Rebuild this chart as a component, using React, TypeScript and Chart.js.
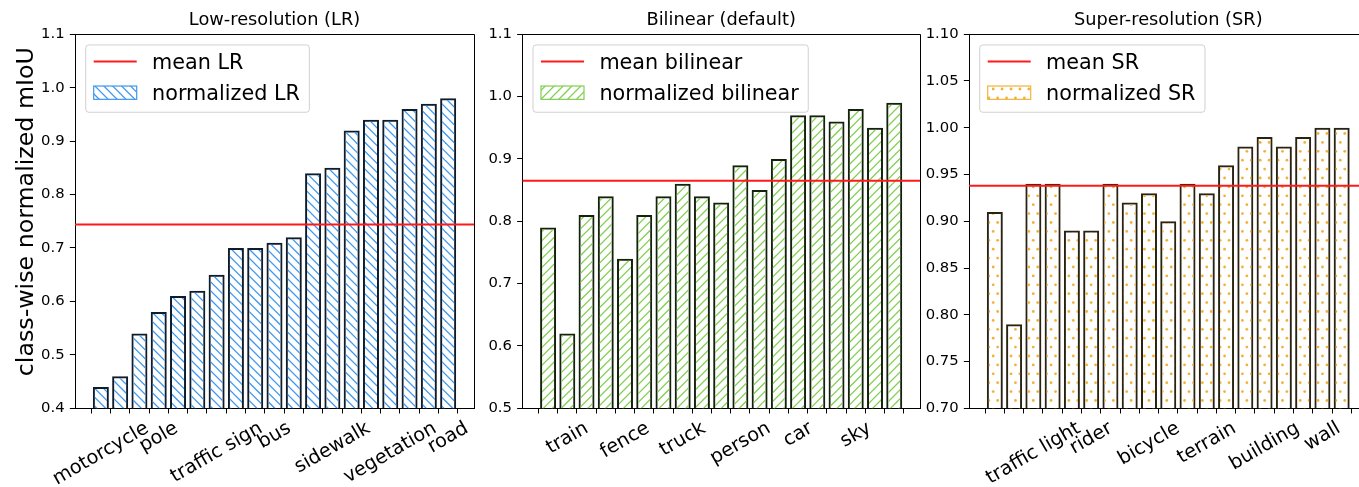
import React, { useEffect, useRef } from "react";
import { Chart, registerables } from "chart.js";

Chart.register(...registerables);

// ---------- data ----------
const classes = [
  "motorcycle", "train", "traffic light", "pole", "fence", "rider", "traffic sign",
  "truck", "bicycle", "bus", "person", "terrain", "sidewalk", "car", "building",
  "vegetation", "sky", "wall", "road",
];

const lrValues = [0.44, 0.46, 0.54, 0.58, 0.61, 0.62, 0.65, 0.70, 0.70, 0.71, 0.72, 0.84, 0.85, 0.92, 0.94, 0.94, 0.96, 0.97, 0.98];
const bilinearValues = [0.79, 0.62, 0.81, 0.84, 0.74, 0.81, 0.84, 0.86, 0.84, 0.83, 0.89, 0.85, 0.90, 0.97, 0.97, 0.96, 0.98, 0.95, 0.99];
const srValues = [0.91, 0.79, 0.94, 0.94, 0.89, 0.89, 0.94, 0.92, 0.93, 0.90, 0.94, 0.93, 0.96, 0.98, 0.99, 0.98, 0.99, 1.00, 1.00];

const meanLR = 0.744;
const meanBilinear = 0.865;
const meanSR = 0.938;

const panelTitles = ["Low-resolution (LR)", "Bilinear (default)", "Super-resolution (SR)"];
const meanLabels = ["mean LR", "mean bilinear", "mean SR"];
const barLabels = ["normalized LR", "normalized bilinear", "normalized SR"];
const yAxisTitle = "class-wise normalized mIoU";

// x limits (matplotlib default margins around 19 bars of width 0.8)
const X_MIN = -1.34;
const X_MAX = 19.34;

const FONT = '"DejaVu Sans", "Liberation Sans", sans-serif';
const PT = 106.7 / 72; // px per point in the reference

type Hatch = "back" | "fwd" | "dots";

function makePattern(kind: Hatch, color: string): CanvasPattern | string {
  const c = document.createElement("canvas");
  const T = 89;
  const N = 10;
  const sp = T / N;
  c.width = T;
  c.height = T;
  const g = c.getContext("2d");
  if (!g) return color;
  g.strokeStyle = color;
  g.fillStyle = color;
  g.lineWidth = 1.25;
  if (kind === "back") {
    for (let k = -2 * N; k <= 2 * N; k++) {
      const c0 = k * sp;
      g.beginPath();
      g.moveTo(-T, -T + c0);
      g.lineTo(2 * T, 2 * T + c0);
      g.stroke();
    }
  } else if (kind === "fwd") {
    for (let k = -2 * N; k <= 3 * N; k++) {
      const c0 = k * sp;
      g.beginPath();
      g.moveTo(-T, c0 + T);
      g.lineTo(2 * T, c0 - 2 * T);
      g.stroke();
    }
  } else {
    for (let r = -1; r <= N + 1; r++) {
      const y = r * sp;
      const off = ((r % 2) + 2) % 2 === 0 ? 0 : sp / 2;
      for (let q = -1; q <= N + 1; q++) {
        const x = q * sp + off;
        g.beginPath();
        g.arc(x, y, 1.4, 0, Math.PI * 2);
        g.fill();
      }
    }
  }
  const ctx = document.createElement("canvas").getContext("2d");
  const p = ctx ? ctx.createPattern(c, "repeat") : null;
  return p || color;
}

type Panel = {
  title: string;
  values: number[];
  mean: number;
  meanLabel: string;
  barLabel: string;
  yMin: number;
  yMax: number;
  yStep: number;
  decimals: number;
  hatch: Hatch;
  hatchColor: string;
  edgeColor: string;
  labelOffset: number;
  yTitle?: string;
  // layout
  left: number;
  width: number;
  axisWidth: number;
  padRight: number;
};

const panels: Panel[] = [
  {
    title: panelTitles[0], values: lrValues, mean: meanLR, meanLabel: meanLabels[0], barLabel: barLabels[0],
    yMin: 0.4, yMax: 1.1, yStep: 0.1, decimals: 1, hatch: "back", hatchColor: "#3d97f0", edgeColor: "#0f1c2b",
    labelOffset: 0, yTitle: yAxisTitle, left: 0, width: 480, axisWidth: 75, padRight: 6,
  },
  {
    title: panelTitles[1], values: bilinearValues, mean: meanBilinear, meanLabel: meanLabels[1], barLabel: barLabels[1],
    yMin: 0.5, yMax: 1.1, yStep: 0.1, decimals: 1, hatch: "fwd", hatchColor: "#80cf50", edgeColor: "#14220d",
    labelOffset: 1, left: 480, width: 442, axisWidth: 42.3, padRight: 2,
  },
  {
    title: panelTitles[2], values: srValues, mean: meanSR, meanLabel: meanLabels[2], barLabel: barLabels[2],
    yMin: 0.7, yMax: 1.1, yStep: 0.05, decimals: 2, hatch: "dots", hatchColor: "#f2b23a", edgeColor: "#2a2312",
    labelOffset: 2, left: 922, width: 453, axisWidth: 47, padRight: 7.5,
  },
];

function PanelChart({ p }: { p: Panel }) {
  const ref = useRef<HTMLCanvasElement | null>(null);
  useEffect(() => {
    const canvas = ref.current;
    if (!canvas) return;
    const pattern = makePattern(p.hatch, p.hatchColor);

    const overlay = {
      id: "overlay",
      afterDraw(chart: any) {
        const { ctx, chartArea: a } = chart;
        const xs = chart.scales.x;
        ctx.save();
        // top & right spines
        ctx.strokeStyle = "#000";
        ctx.lineWidth = 1;
        ctx.beginPath();
        ctx.moveTo(a.left, Math.round(a.top) + 0.5);
        ctx.lineTo(a.right, Math.round(a.top) + 0.5);
        ctx.moveTo(Math.round(a.right) + 0.5, a.top);
        ctx.lineTo(Math.round(a.right) + 0.5, a.bottom);
        ctx.stroke();

        // y-axis title (only first panel)
        if (p.yTitle) {
          const yfs = 16 * PT;
          ctx.font = `${yfs}px ${FONT}`;
          ctx.fillStyle = "#000";
          ctx.textAlign = "center";
          ctx.textBaseline = "alphabetic";
          ctx.save();
          ctx.translate(33.3, (a.top + a.bottom) / 2 - 9.6);
          ctx.rotate(-Math.PI / 2);
          ctx.fillText(p.yTitle, 0, 0);
          ctx.restore();
        }

        // rotated category labels (matplotlib style: bbox centred on tick)
        const fs = 13 * PT;
        ctx.font = `${fs}px ${FONT}`;
        ctx.fillStyle = "#000";
        ctx.textAlign = "center";
        ctx.textBaseline = "alphabetic";
        const ang = Math.PI / 6;
        classes.forEach((name, i) => {
          if (i % 3 !== p.labelOffset) return;
          const x = xs.getPixelForValue(i);
          const W = ctx.measureText(name).width;
          const h = 0.996 * fs;
          const bh = W * Math.sin(ang) + h * Math.cos(ang);
          const cy = a.bottom + 7 * PT + bh / 2;
          ctx.save();
          ctx.translate(x, cy);
          ctx.rotate(-ang);
          ctx.fillText(name, 0, 0.262 * fs);
          ctx.restore();
        });

        // legend
        const lfs = 14 * PT;
        ctx.font = `${lfs}px ${FONT}`;
        const ds = chart.data.datasets;
        const tw = Math.max(ctx.measureText(ds[0].label).width, ctx.measureText(ds[1].label).width);
        const fx = a.left + 10.7;
        const fy = a.top + 10.7;
        const fw = 66.4 + tw + 9.5;
        const fh = 67.3;
        const r = 3;
        ctx.beginPath();
        ctx.moveTo(fx + r, fy);
        ctx.lineTo(fx + fw - r, fy);
        ctx.arcTo(fx + fw, fy, fx + fw, fy + r, r);
        ctx.lineTo(fx + fw, fy + fh - r);
        ctx.arcTo(fx + fw, fy + fh, fx + fw - r, fy + fh, r);
        ctx.lineTo(fx + r, fy + fh);
        ctx.arcTo(fx, fy + fh, fx, fy + fh - r, r);
        ctx.lineTo(fx, fy + r);
        ctx.arcTo(fx, fy, fx + r, fy, r);
        ctx.closePath();
        ctx.fillStyle = "rgba(255,255,255,0.8)";
        ctx.fill();
        ctx.strokeStyle = "#d0d0d0";
        ctx.lineWidth = 1;
        ctx.stroke();

        const row1 = a.top + 27.2;
        const row2 = a.top + 58.4;
        // line handle
        ctx.strokeStyle = ds[0].borderColor;
        ctx.lineWidth = ds[0].borderWidth;
        ctx.beginPath();
        ctx.moveTo(fx + 8, row1);
        ctx.lineTo(fx + 51, row1);
        ctx.stroke();
        // patch handle
        ctx.fillStyle = ds[1].backgroundColor;
        ctx.fillRect(fx + 8, row2 - 6.6, 43, 13.3);
        ctx.strokeStyle = p.hatchColor;
        ctx.lineWidth = 1.2;
        ctx.strokeRect(fx + 8, row2 - 6.6, 43, 13.3);
        // texts
        ctx.fillStyle = "#000";
        ctx.textAlign = "left";
        ctx.textBaseline = "alphabetic";
        ctx.fillText(ds[0].label, fx + 66.4, row1 + 0.365 * lfs);
        ctx.fillText(ds[1].label, fx + 66.4, row2 + 0.365 * lfs);
        ctx.restore();
      },
    };

    const chart = new Chart(canvas, {
      type: "bar",
      data: {
        datasets: [
          {
            type: "line",
            label: p.meanLabel,
            data: [{ x: X_MIN, y: p.mean }, { x: X_MAX, y: p.mean }],
            borderColor: "#ff1a1a",
            borderWidth: 2,
            pointRadius: 0,
            order: 0,
          } as any,
          {
            type: "bar",
            label: p.barLabel,
            data: p.values.map((v, i) => ({ x: i, y: v })),
            backgroundColor: pattern as any,
            borderColor: p.edgeColor,
            borderWidth: 2,
            barPercentage: 0.83,
            categoryPercentage: 1,
            order: 1,
          } as any,
        ],
      },
      options: {
        animation: false,
        responsive: false,
        maintainAspectRatio: false,
        events: [],
        layout: { padding: { left: 0, right: p.padRight, top: 0, bottom: 0 } },
        plugins: {
          legend: { display: false },
          tooltip: { enabled: false },
          title: {
            display: true,
            text: p.title,
            fullSize: false,
            color: "#000",
            font: { family: FONT, size: 12 * PT, weight: "normal", lineHeight: 1.2 },
            padding: { top: 9.5, bottom: 3.4 },
          } as any,
        },
        scales: {
          x: {
            type: "linear",
            min: X_MIN,
            max: X_MAX,
            offset: false,
            afterBuildTicks: (s: any) => {
              s.ticks = s.ticks.filter(
                (t: any) => Number.isInteger(t.value) && t.value >= 0 && t.value < classes.length
              );
            },
            afterFit: (s: any) => {
              s.height = 487 - 408.3;
            },
            grid: { display: true, drawOnChartArea: false, drawTicks: true, tickLength: 3.5 * PT, color: "#000", lineWidth: 1 },
            border: { display: true, color: "#000", width: 1 },
            ticks: { stepSize: 1, autoSkip: false, maxRotation: 0, padding: 0, callback: () => "" },
          } as any,
          y: {
            type: "linear",
            min: p.yMin,
            max: p.yMax,
            afterFit: (s: any) => {
              s.width = p.axisWidth;
            },
            grid: { display: true, drawOnChartArea: false, drawTicks: true, tickLength: 3.5 * PT, color: "#000", lineWidth: 1 },
            border: { display: true, color: "#000", width: 1 },
            ticks: {
              stepSize: p.yStep,
              autoSkip: false,
              padding: 3.5 * PT,
              color: "#000",
              font: { family: FONT, size: 10 * PT },
              callback: (v: any) => Number(v).toFixed(p.decimals),
            },
          } as any,
        },
      },
      plugins: [overlay],
    });
    return () => chart.destroy();
  }, [p]);

  return (
    <canvas
      ref={ref}
      width={p.width}
      height={487}
      style={{ position: "absolute", left: p.left, top: 0, width: p.width, height: 487 }}
    />
  );
}

export default function App() {
  return (
    <div
      style={{
        position: "fixed",
        left: 0,
        top: 0,
        width: 1359,
        height: 487,
        overflow: "hidden",
        background: "#fff",
      }}
    >
      {panels.map((p, i) => (
        <PanelChart key={i} p={p} />
      ))}
    </div>
  );
}
